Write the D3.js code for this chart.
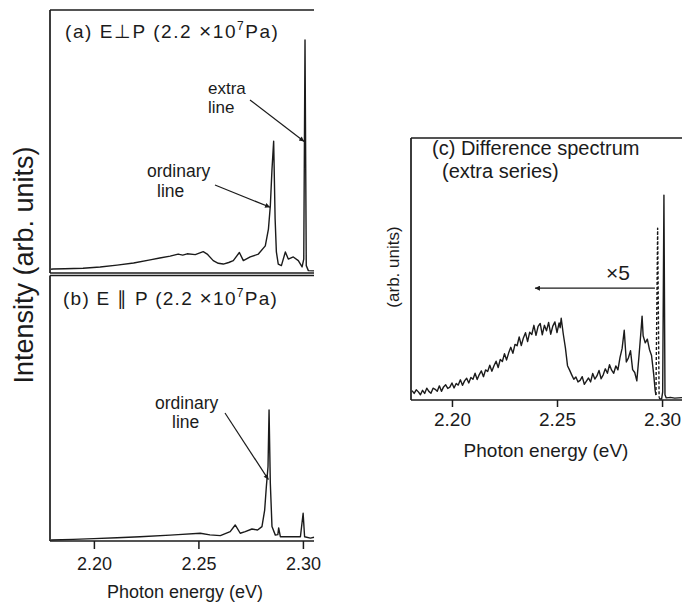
<!DOCTYPE html>
<html>
<head>
<meta charset="utf-8">
<script src="https://cdn.jsdelivr.net/npm/d3@7"></script>
<style>
  body { margin: 0; background: #fff; }
  svg { display: block; font-family: "Liberation Sans", Arial, Helvetica, sans-serif; }
</style>
</head>
<body>
<div id="chart"></div>
<script>
// Spectra: [photon energy (eV), intensity (arb.)]
const spectrumA = [
  [2.1795, 1.4], [2.1804, 1.5], [2.186, 1.6], [2.1948, 1.8], [2.203, 2.3],
  [2.2111, 3.0], [2.219, 3.8], [2.2269, 5.0], [2.2315, 5.7], [2.2365, 6.4],
  [2.2403, 7.2], [2.2425, 6.8], [2.2446, 7.3], [2.2485, 7.0], [2.2523, 8.1],
  [2.2542, 7.2], [2.2571, 4.7], [2.2595, 3.7], [2.2619, 3.4], [2.2645, 4.0],
  [2.2667, 4.7], [2.2696, 7.8], [2.2715, 4.7], [2.2748, 6.1], [2.2787, 7.2],
  [2.2820, 10.3], [2.2835, 16.7], [2.2844, 25.5], [2.2852, 39.4], [2.2860, 50.1],
  [2.2867, 20.5], [2.2873, 8.0], [2.2882, 3.4], [2.2897, 2.8], [2.2916, 8.0],
  [2.2930, 5.3], [2.2954, 6.1], [2.2978, 4.7], [2.2996, 2.3], [2.3004, 5.3],
  [2.3010, 88.6], [2.3016, 2.8], [2.3026, 0.9], [2.3053, 0.8]
];

const spectrumB = [
  [2.1795, 0.4], [2.190, 0.6], [2.200, 0.9], [2.2111, 1.2], [2.222, 1.6],
  [2.2365, 2.2], [2.2403, 2.4], [2.2509, 2.9], [2.2555, 2.3], [2.2605, 2.0],
  [2.2652, 3.5], [2.2676, 6.0], [2.2700, 2.9], [2.2724, 3.5], [2.2756, 4.5],
  [2.2783, 4.1], [2.2804, 5.4], [2.2817, 11.6], [2.2825, 20.3], [2.2833, 27.8],
  [2.2838, 49.1], [2.2844, 21.7], [2.2852, 5.4], [2.2868, 2.2], [2.2880, 2.4],
  [2.2884, 4.9], [2.2892, 1.6], [2.2940, 1.6], [2.2988, 1.6], [2.3001, 10.4],
  [2.3008, 1.6], [2.3036, 1.1], [2.3053, 1.4]
];

// (c) difference spectrum, x5 part (solid)
const spectrumC = [
  [2.181, 3.6], [2.182, 2.5], [2.183, 3.9], [2.184, 3.1], [2.185, 2.0],
  [2.186, 3.7], [2.187, 2.5], [2.188, 4.5], [2.189, 3.3], [2.190, 2.6],
  [2.191, 4.5], [2.192, 4.1], [2.193, 3.3], [2.194, 5.4], [2.195, 3.3],
  [2.196, 5.0], [2.197, 5.8], [2.198, 4.4], [2.199, 4.9], [2.200, 6.5],
  [2.201, 4.6], [2.202, 6.3], [2.203, 5.7], [2.204, 7.7], [2.205, 5.6],
  [2.206, 7.3], [2.207, 8.3], [2.208, 6.5], [2.209, 8.6], [2.210, 7.9],
  [2.211, 10.2], [2.212, 7.8], [2.213, 9.7], [2.214, 11.1], [2.215, 8.9],
  [2.216, 11.5], [2.217, 10.9], [2.218, 13.3], [2.219, 11.0], [2.220, 13.1],
  [2.221, 14.8], [2.222, 12.4], [2.223, 15.5], [2.224, 14.7], [2.225, 17.7],
  [2.226, 15.3], [2.227, 18.0], [2.228, 20.1], [2.229, 17.8], [2.230, 21.2],
  [2.231, 20.7], [2.232, 24.1], [2.233, 20.8], [2.234, 23.7], [2.235, 25.7],
  [2.236, 22.3], [2.237, 25.9], [2.238, 25.0], [2.239, 28.5], [2.240, 24.7],
  [2.241, 28.1], [2.242, 29.2], [2.243, 24.9], [2.244, 28.5], [2.245, 26.4],
  [2.246, 29.6], [2.247, 25.1], [2.248, 28.2], [2.249, 29.8], [2.250, 25.7],
  [2.251, 29.4], [2.2515, 27.6], [2.252, 31.2], [2.253, 25.1], [2.254, 19.9],
  [2.255, 13.1], [2.256, 11.4], [2.257, 9.6], [2.258, 7.9], [2.259, 8.8],
  [2.260, 6.9], [2.261, 7.5], [2.262, 8.9], [2.263, 6.0], [2.264, 7.2],
  [2.265, 8.4], [2.266, 6.9], [2.267, 10.1], [2.268, 8.0], [2.269, 9.2],
  [2.270, 11.3], [2.271, 8.1], [2.272, 9.6], [2.273, 11.9], [2.274, 10.2],
  [2.275, 13.5], [2.276, 11.4], [2.277, 10.2], [2.278, 13.0], [2.279, 11.5],
  [2.280, 16.3], [2.281, 19.7], [2.282, 26.6], [2.283, 14.5], [2.284, 16.1],
  [2.285, 18.8], [2.286, 11.6], [2.287, 10.5], [2.288, 7.3], [2.289, 16.5],
  [2.290, 26.5], [2.2905, 32.0], [2.291, 24.5], [2.292, 21.8], [2.293, 23.2],
  [2.294, 19.3], [2.295, 17.0], [2.296, 10.0], [2.2967, 3.8], [2.2971, 1.9]
];
// x5 curve running off the top near the extra line (dashed)
const spectrumCDashed = [[2.2971, 1.9], [2.2979, 65.6], [2.2986, 1.0]];
// unscaled extra line (solid)
const spectrumCPeak = [
  [2.2986, 1.0], [2.2990, 0.4], [2.2998, 0.4], [2.3003, 3.0], [2.3009, 78.2],
  [2.3014, 2.0], [2.3020, 0.8], [2.3040, 1.0], [2.3060, 0.7], [2.3095, 0.9]
];

const tickValues = [2.20, 2.25, 2.30];

const width = 683, height = 602;
const ink = "#1b1b1b";

const svg = d3.select("#chart").append("svg")
  .attr("width", width).attr("height", height);

// scales
const xL = d3.scaleLinear().domain([2.179, 2.3053]).range([50, 314]);
const yA = d3.scaleLinear().domain([0, 100]).range([273, 10]);
const yB = d3.scaleLinear().domain([0, 100]).range([541, 274]);
const xC = d3.scaleLinear().domain([2.1805, 2.3095]).range([411, 682]);
const yC = d3.scaleLinear().domain([0, 100]).range([400, 138]);

const line = (x, y) => d3.line().x(d => x(d[0])).y(d => y(d[1]));

// arrowhead marker
svg.append("defs").append("marker")
  .attr("id", "head")
  .attr("viewBox", "0 0 10 10")
  .attr("refX", 10).attr("refY", 5)
  .attr("markerWidth", 7).attr("markerHeight", 5)
  .attr("markerUnits", "userSpaceOnUse")
  .attr("orient", "auto")
  .append("path").attr("d", "M0,0L10,5L0,10Z").attr("fill", ink);

function frame(x, top, bottom) {
  const [x0, x1] = x.range();
  const g = svg.append("g").attr("stroke", ink).attr("stroke-width", 1.7).attr("fill", "none");
  g.append("line").attr("x1", x0).attr("x2", x1).attr("y1", top).attr("y2", top);
  g.append("line").attr("x1", x0).attr("x2", x1).attr("y1", bottom).attr("y2", bottom);
  g.append("line").attr("x1", x0).attr("x2", x0).attr("y1", top).attr("y2", bottom);
}

frame(xL, 10, 273);
frame(xL, 275.5, 541);
frame(xC, 138, 400);

// curves
function curve(data, x, y, dash) {
  svg.append("path").datum(data)
    .attr("fill", "none").attr("stroke", ink)
    .attr("stroke-width", 1.4).attr("stroke-linejoin", "round")
    .attr("stroke-dasharray", dash || null)
    .attr("d", line(x, y));
}
curve(spectrumA, xL, yA);
curve(spectrumB, xL, yB);
curve(spectrumC, xC, yC);
curve(spectrumCDashed, xC, yC, "3,2");
curve(spectrumCPeak, xC, yC);

// bottom axes
function bottomAxis(x, y0, size, pad, fs) {
  const g = svg.append("g").attr("transform", `translate(0,${y0})`)
    .call(d3.axisBottom(x).tickValues(tickValues).tickFormat(d3.format(".2f"))
      .tickSize(size).tickPadding(pad).tickSizeOuter(0));
  g.select(".domain").remove();
  g.selectAll(".tick line").attr("stroke", ink).attr("stroke-width", 1.5);
  g.selectAll(".tick text").attr("fill", ink)
    .style("font-size", fs + "px").style("font-family", "'Liberation Sans', Arial, sans-serif");
}
bottomAxis(xL, 541, 8, 8, 18);
bottomAxis(xC, 400, 7, 6, 19);

function label(x, y, s, fs, opts = {}) {
  const t = svg.append("text").attr("x", x).attr("y", y)
    .attr("fill", ink).style("font-size", fs + "px").text(s);
  if (opts.anchor) t.attr("text-anchor", opts.anchor);
  if (opts.rotate) t.attr("transform", `rotate(-90,${x},${y})`);
  return t;
}

label(185, 598, "Photon energy (eV)", 18, { anchor: "middle" });
label(546, 457, "Photon energy (eV)", 19, { anchor: "middle" });
label(33, 265, "Intensity (arb. units)", 27, { anchor: "middle", rotate: true });
label(399, 267, "(arb. units)", 17, { anchor: "middle", rotate: true });

// panel titles: stretched to the width they take in the figure
function title(x, y, head, w) {
  const t = svg.append("text").attr("x", x).attr("y", y).attr("fill", ink)
    .style("font-size", "19px");
  t.append("tspan").text(head + " (2.2 ");
  t.append("tspan").style("font-size", "21px").text("\u00D7");
  t.append("tspan").text("10");
  t.append("tspan").attr("dy", -8).style("font-size", "12px").text("7");
  t.append("tspan").attr("dy", 8).text("Pa)");
  const len = t.node().getComputedTextLength();
  const n = t.text().length - 1;
  t.style("letter-spacing", ((w - len) / n).toFixed(2) + "px");
}
title(65, 38, "(a) E\u22A5P", 213);
title(63, 305, "(b) E \u2225 P", 214);

label(432, 155, "(c) Difference spectrum", 20);
label(442, 178, "(extra series)", 20);

// annotations
function arrow(x1, y1, x2, y2) {
  svg.append("line").attr("x1", x1).attr("y1", y1).attr("x2", x2).attr("y2", y2)
    .attr("stroke", ink).attr("stroke-width", 1.2).attr("marker-end", "url(#head)");
}
label(208, 94, "extra", 17);
label(208, 113, "line", 17);
arrow(250, 100, xL(2.3006), yA(50));

label(147, 177, "ordinary", 17.5);
label(157, 197, "line", 17.5);
arrow(215, 185, xL(2.2843), yA(25));

label(155, 409, "ordinary", 17.5);
label(172, 428, "line", 17.5);
arrow(225, 413, xL(2.2835), yB(23));

label(606, 280, "\u00D75", 21);
arrow(xC(2.2966), yC(42.7), xC(2.2395), yC(42.7));
</script>
</body>
</html>
